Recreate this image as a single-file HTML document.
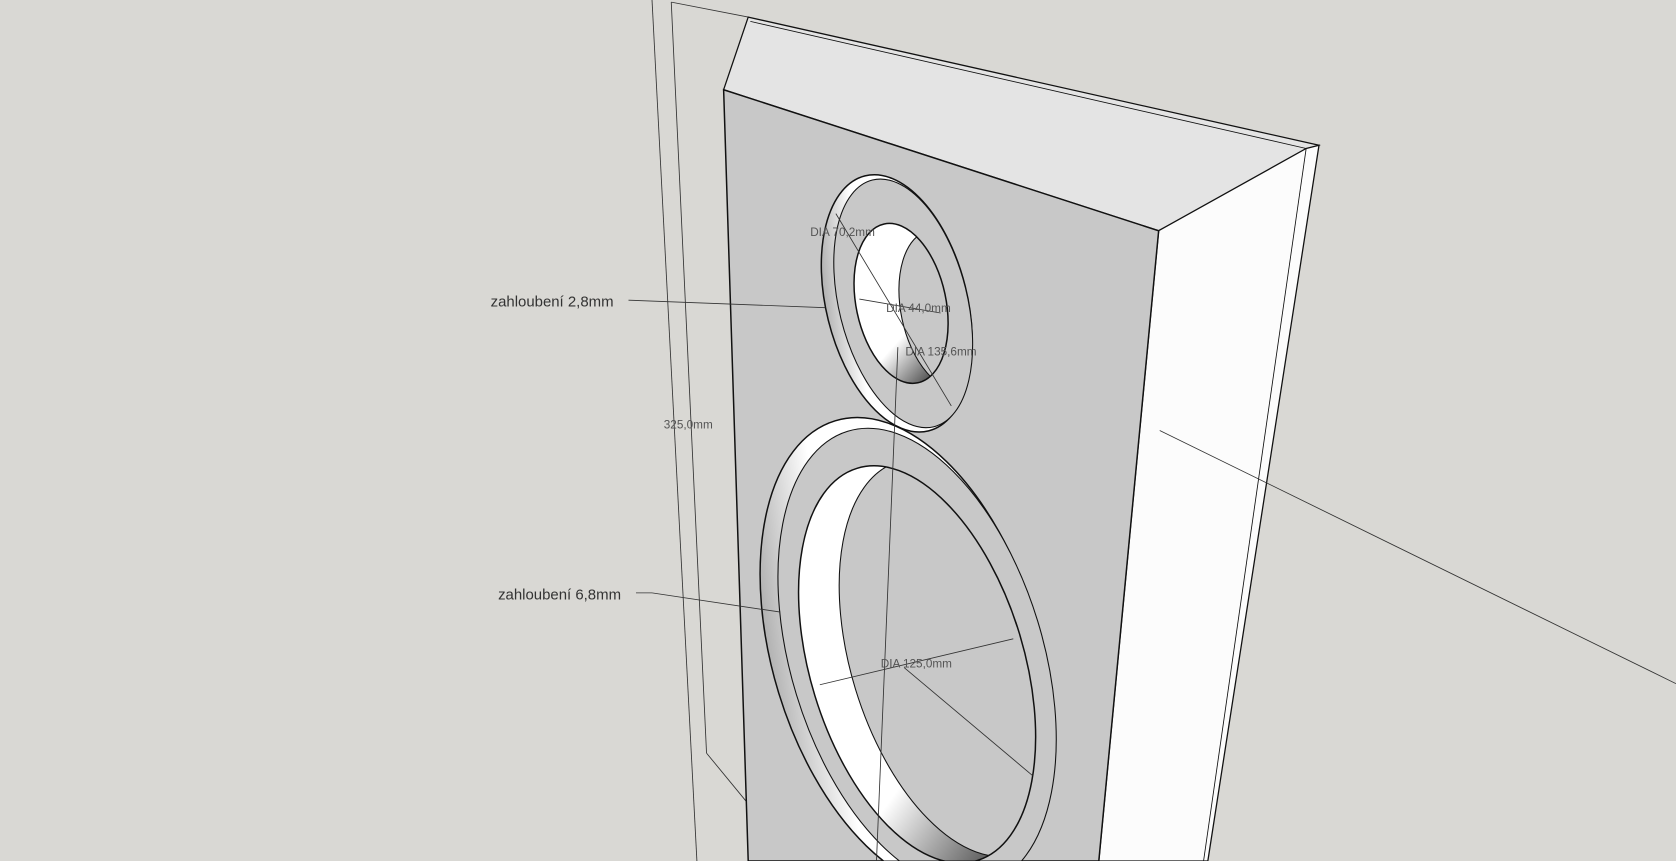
<!DOCTYPE html>
<html><head><meta charset="utf-8"><style>
html,body{margin:0;padding:0;background:#d9d8d4;overflow:hidden;width:1676px;height:861px;}
svg{display:block;}
text{font-family:"Liberation Sans",sans-serif;}
</style></head><body>
<svg width="1676" height="861" viewBox="0 0 1568 806" preserveAspectRatio="none" xmlns="http://www.w3.org/2000/svg">
<defs>
<linearGradient id="g1" x1="0" y1="0" x2="1" y2="0.3">
<stop offset="0" stop-color="#8a8a8a"/><stop offset="0.35" stop-color="#ffffff"/><stop offset="1" stop-color="#ffffff"/>
</linearGradient>
<linearGradient id="g2" x1="0.3" y1="0" x2="0.7" y2="1">
<stop offset="0" stop-color="#ffffff"/><stop offset="0.65" stop-color="#ffffff"/><stop offset="1" stop-color="#444"/>
</linearGradient>
<clipPath id="ct"><ellipse cx="843" cy="284" rx="42" ry="76" transform="rotate(-12 843 284)"/></clipPath>
<clipPath id="cw"><ellipse cx="858" cy="622" rx="100" ry="192" transform="rotate(-17 858 622)"/></clipPath>
<clipPath id="frame"><rect width="1568" height="806"/></clipPath>
</defs>
<rect width="1568" height="806" fill="#d9d8d4"/>
<g clip-path="url(#frame)">
<g stroke="#333" stroke-width="0.8" fill="none">
<line x1="610" y1="0" x2="652" y2="806"/>
<line x1="628" y1="2" x2="661" y2="705"/>
<line x1="628" y1="2" x2="700" y2="16"/>
<line x1="661" y1="705" x2="698" y2="750"/>
</g>
<polygon points="700,16 1234,136 1084,216 677,84" fill="#e4e4e4" stroke="#111" stroke-width="1.2"/>
<line x1="702" y1="20" x2="1222" y2="139" stroke="#111" stroke-width="0.8"/>
<polygon points="1084,216 1222,139 1234,136 1130,806 1028,806" fill="#fcfcfc" stroke="#111" stroke-width="1.2"/>
<line x1="1222" y1="139" x2="1126" y2="806" stroke="#111" stroke-width="0.8"/>
<polygon points="677,84 1084,216 1028,806 700,806" fill="#c8c8c8" stroke="#111" stroke-width="1.4"/>
<!-- tweeter -->
<ellipse cx="839" cy="284" rx="66" ry="123" transform="rotate(-14 839 284)" fill="url(#g1)" stroke="#111" stroke-width="1.4"/>
<ellipse cx="845" cy="284" rx="60" ry="119" transform="rotate(-14 845 284)" fill="#c8c8c8" stroke="#111" stroke-width="1"/>
<ellipse cx="843" cy="284" rx="42" ry="76" transform="rotate(-12 843 284)" fill="url(#g2)"/>
<g clip-path="url(#ct)">
<ellipse cx="885" cy="290" rx="42" ry="76" transform="rotate(-12 885 290)" fill="#c8c8c8" stroke="#111" stroke-width="1"/>
</g>
<ellipse cx="843" cy="284" rx="42" ry="76" transform="rotate(-12 843 284)" fill="none" stroke="#111" stroke-width="1.4"/>
<!-- woofer -->
<ellipse cx="848" cy="612" rx="125" ry="228" transform="rotate(-17 848 612)" fill="url(#g1)" stroke="#111" stroke-width="1.4"/>
<ellipse cx="858" cy="616" rx="118" ry="222" transform="rotate(-17 858 616)" fill="#c8c8c8" stroke="#111" stroke-width="1"/>
<ellipse cx="858" cy="622" rx="100" ry="192" transform="rotate(-17 858 622)" fill="url(#g2)"/>
<g clip-path="url(#cw)">
<ellipse cx="896" cy="616" rx="100" ry="192" transform="rotate(-17 896 616)" fill="#c8c8c8" stroke="#111" stroke-width="1"/>
</g>
<ellipse cx="858" cy="622" rx="100" ry="192" transform="rotate(-17 858 622)" fill="none" stroke="#111" stroke-width="1.4"/>
<line x1="700" y1="806" x2="1028" y2="806" stroke="#111" stroke-width="1"/>
<g stroke="#333" stroke-width="0.8" fill="none">
<line x1="782" y1="200" x2="890" y2="380"/>
<line x1="804" y1="280" x2="880" y2="293"/>
<line x1="840" y1="325" x2="820" y2="806"/>
<line x1="767" y1="641" x2="948" y2="598"/>
<line x1="846" y1="625" x2="966" y2="726"/>
<line x1="588" y1="281" x2="772" y2="288"/>
<line x1="595" y1="555" x2="610" y2="555"/>
<line x1="610" y1="555" x2="730" y2="573"/>
<line x1="1085" y1="403" x2="1568" y2="640"/>
</g>
<g font-size="11" fill="#555">
<text x="758" y="221">DIA 70,2mm</text>
<text x="829" y="292">DIA 44,0mm</text>
<text x="847" y="333">DIA 135,6mm</text>
<text x="824" y="625">DIA 125,0mm</text>
<text x="621" y="401">325,0mm</text>
</g>
<g font-size="14" fill="#333">
<text x="459" y="287">zahloubení 2,8mm</text>
<text x="466" y="561">zahloubení 6,8mm</text>
</g>
</g>
</svg>
</body></html>
